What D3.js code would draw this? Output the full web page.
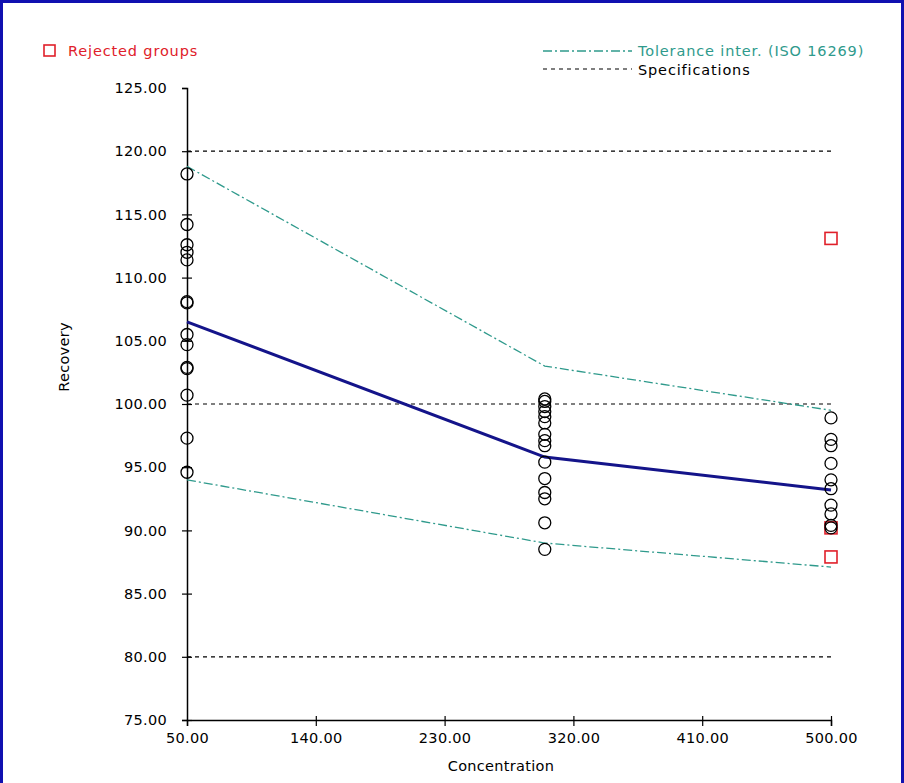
<!DOCTYPE html>
<html><head><meta charset="utf-8">
<script src="https://cdn.jsdelivr.net/npm/d3@7"></script>
<style>
html,body{margin:0;padding:0;background:#fff;}
svg{display:block;font-family:"DejaVu Sans",Verdana,sans-serif;}
</style></head>
<body>
<svg id="c" width="904" height="783"></svg>
<script>
// ---- data ----
const concentrations = [50, 300, 500];
const meanRecovery = [106.5, 95.8, 93.2];
const tolUpper = [118.8, 103.0, 99.5];
const tolLower = [94.0, 89.0, 87.1];
const specLimits = [120, 100, 80];
const obs50 = [118.2, 114.2, 112.6, 112.0, 111.4, 108.1, 108.0, 105.5, 104.7, 102.9, 102.8, 100.7, 97.3, 94.6];
const obs300 = [100.4, 100.2, 99.8, 99.4, 99.0, 98.5, 97.6, 97.1, 96.7, 95.4, 94.1, 93.0, 92.5, 90.6, 88.5];
const obs500 = [98.9, 97.2, 96.7, 95.3, 94.0, 93.3, 92.0, 91.3, 90.4, 90.2];
const rejected500 = [113.1, 90.2, 87.9];
const xTicks = [50, 140, 230, 320, 410, 500];
const yTicks = [75, 80, 85, 90, 95, 100, 105, 110, 115, 120, 125];

const svg = d3.select("#c");
const x = d3.scaleLinear().domain([50, 500]).range([187, 831]);
const y = d3.scaleLinear().domain([75, 125]).range([720, 88]);

// frame
svg.append("path").attr("d", "M1.5,783 V1.5 H902.5 V783")
  .attr("fill", "none").attr("stroke", "#1010b0").attr("stroke-width", 3);

const fs = "14.5px";
const ls = "0.3px";
const lls = "0.85px";
const ff = "'DejaVu Sans',Verdana,sans-serif";

// spec lines
svg.append("g").selectAll("line").data(specLimits).join("line")
  .attr("x1", x(50)).attr("x2", x(500))
  .attr("y1", d => y(d)).attr("y2", d => y(d))
  .attr("stroke", "#000").attr("stroke-width", 1.2).attr("stroke-dasharray", "4,4");

// axes
const yAxis = d3.axisLeft(y).tickValues(yTicks).tickFormat(d3.format(".2f")).tickSize(5).tickPadding(15);
const gy = svg.append("g").attr("transform", `translate(${x(50)},0)`).call(yAxis);
const xAxis = d3.axisBottom(x).tickValues(xTicks).tickFormat(d3.format(".2f")).tickSize(6).tickPadding(7);
const gx = svg.append("g").attr("transform", `translate(0,${y(75)})`).call(xAxis);
[gy, gx].forEach(g => {
  g.select(".domain").attr("stroke", "#000").attr("stroke-width", 1.5);
  g.selectAll(".tick line").attr("stroke", "#000").attr("stroke-width", 1.2);
  g.selectAll(".tick text").attr("fill", "#000").style("font-size", fs).style("letter-spacing", ls)
    .style("font-family", ff);
});
gy.selectAll(".tick").filter(d => d !== 125).append("line").attr("x1", 0).attr("x2", 5).attr("stroke", "#000").attr("stroke-width", 1.2);
gx.selectAll(".tick").filter(d => d !== 50).append("line").attr("y1", 0).attr("y2", -4).attr("stroke", "#000").attr("stroke-width", 1.2);

// axis titles
svg.append("text").attr("x", 501).attr("y", 771).attr("text-anchor", "middle")
  .style("font-size", fs).style("letter-spacing", ls).text("Concentration");
svg.append("text").attr("transform", `translate(69,357) rotate(-90)`).attr("text-anchor", "middle")
  .style("font-size", fs).style("letter-spacing", ls).text("Recovery");

// tolerance lines
const tolColor = "#2f9a8c";
const line = d3.line().x(d => x(d[0])).y(d => y(d[1]));
[tolUpper, tolLower].forEach(arr => {
  svg.append("path").datum(concentrations.map((c, i) => [c, arr[i]]))
    .attr("d", line).attr("fill", "none").attr("stroke", tolColor)
    .attr("stroke-width", 1.3).attr("stroke-dasharray", "9,3,2,3");
});

// mean line
svg.append("path").datum(concentrations.map((c, i) => [c, meanRecovery[i]]))
  .attr("d", line).attr("fill", "none").attr("stroke", "#14148a").attr("stroke-width", 3);

// rejected
const sq = 12;
svg.append("g").selectAll("rect").data(rejected500).join("rect")
  .attr("x", x(500) - sq / 2).attr("y", d => y(d) - sq / 2)
  .attr("width", sq).attr("height", sq)
  .attr("fill", "none").attr("stroke", "#e0202a").attr("stroke-width", 1.6);

// observations
const pts = [].concat(
  obs50.map(v => [50, v]),
  obs300.map(v => [300, v]),
  obs500.map(v => [500, v])
);
svg.append("g").selectAll("circle").data(pts).join("circle")
  .attr("cx", d => x(d[0])).attr("cy", d => y(d[1])).attr("r", 6)
  .attr("fill", "none").attr("stroke", "#000").attr("stroke-width", 1.3);

// legend
svg.append("rect").attr("x", 44).attr("y", 45).attr("width", 11).attr("height", 11)
  .attr("fill", "none").attr("stroke", "#e0202a").attr("stroke-width", 1.6);
svg.append("text").attr("x", 68).attr("y", 56).attr("fill", "#e0202a")
  .style("font-size", fs).style("letter-spacing", lls).text("Rejected groups");

svg.append("line").attr("x1", 543).attr("x2", 632).attr("y1", 51).attr("y2", 51)
  .attr("stroke", tolColor).attr("stroke-width", 1.3).attr("stroke-dasharray", "9,3,2,3");
svg.append("text").attr("x", 638).attr("y", 56).attr("fill", tolColor)
  .style("font-size", fs).style("letter-spacing", lls).text("Tolerance inter. (ISO 16269)");
svg.append("line").attr("x1", 543).attr("x2", 632).attr("y1", 69).attr("y2", 69)
  .attr("stroke", "#000").attr("stroke-width", 1.2).attr("stroke-dasharray", "4,4");
svg.append("text").attr("x", 638).attr("y", 75).attr("fill", "#000")
  .style("font-size", fs).style("letter-spacing", lls).text("Specifications");
</script>
</body></html>
